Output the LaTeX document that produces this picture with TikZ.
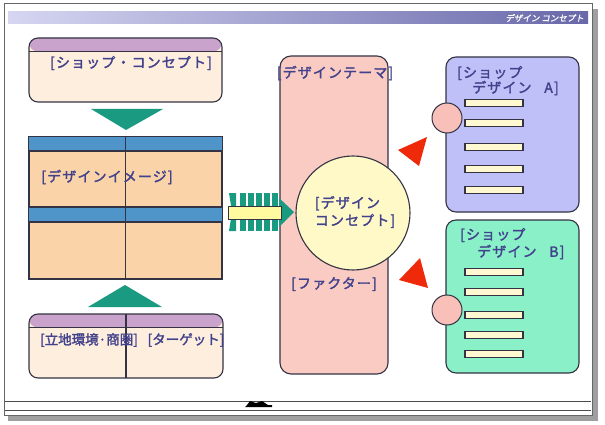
\documentclass[tikz,border=0pt]{standalone}
\usepackage{fontspec}
\newfontfamily\jp{Noto Sans CJK JP}[FakeBold=2,LetterSpace=8]
\newfontfamily\jpn{Noto Sans CJK JP}[FakeBold=2]
\newfontfamily\jpsl{Noto Sans CJK JP}[FakeBold=1.5,FakeSlant=0.2]
\definecolor{purp}{HTML}{C9A3CB}
\definecolor{cream}{HTML}{FDEEDD}
\definecolor{peach}{HTML}{FAD4A8}
\definecolor{bandblue}{HTML}{4F95C9}
\definecolor{teal}{HTML}{1A9A80}
\definecolor{pinkrect}{HTML}{F9CBC2}
\definecolor{circ}{HTML}{FFF9C8}
\definecolor{redt}{HTML}{EE2A0A}
\definecolor{lav}{HTML}{C0C0F8}
\definecolor{mint}{HTML}{8AF0C8}
\definecolor{barc}{HTML}{FFF8D0}
\definecolor{linec}{HTML}{333344}
\definecolor{txtc}{HTML}{42428C}
\definecolor{pinkc}{HTML}{F8C0B8}
\begin{document}
\begin{tikzpicture}[x=1pt,y=-1pt,
  outl/.style={draw=linec, line width=1.1pt},
  txt/.style={text=txtc, font=\jp\fontsize{14}{17.5}\selectfont, inner sep=0pt},
  smalltxt/.style={text=txtc, font=\jpn\fontsize{13.5}{16}\selectfont, inner sep=0pt},
  panel/.style={outl, rectangle, rounded corners=9pt, inner sep=0pt},
  barbox/.style={outl, line width=1.2pt, fill=barc, minimum width=58pt, minimum height=7pt, inner sep=0pt},
  knob/.style={outl, line width=1pt, circle, fill=pinkc, minimum size=30pt, inner sep=0pt},
  band/.style={path picture={\fill[#1] (path picture bounding box.north west) rectangle ([yshift=-13.5pt]path picture bounding box.north east);
     \draw[linec, line width=1.1pt] ([yshift=-13.5pt]path picture bounding box.north west) -- ([yshift=-13.5pt]path picture bounding box.north east);}}
]
\useasboundingbox (0,0) rectangle (605,425);
\fill[white] (0,0) rectangle (605,425);
% frame
\fill[gray!75] (8,9) rectangle (598,421);
\fill[white] (4,4) rectangle (592,415);
\draw[gray!80!black, line width=1pt] (4,4) rectangle (592,415);
\draw[gray!60!black, line width=1pt] (5,401) -- (591,401);
\draw[gray!60!black, line width=1pt] (5,410) -- (591,410);
\fill[black] (247,405) -- (250,401) -- (256,403) -- (262,401) -- (268,405) -- (272,405) -- (272,407) -- (245,407) -- cycle;
% title bar
\shade[left color={rgb,255:red,214;green,214;blue,242}, right color={rgb,255:red,104;green,104;blue,170}] (8,12) rectangle (588,24);
\node[anchor=east, text=white, font=\jpsl\fontsize{8.5}{10}\selectfont, inner sep=0pt] (title) at (584,18) {デザイン コンセプト};

% left column
\node[panel, fill=cream, band=purp, minimum width=193pt, minimum height=64pt] (shop) at (125.5,70) {};
\node[txt] (shopt) at (131,63) {[ショップ・コンセプト]};
\fill[teal] (91,109) -- (163,109) -- (126,130) -- cycle;

\node[outl, rectangle, fill=peach, minimum width=193pt, minimum height=142pt, inner sep=0pt] (grid) at (125.5,208) {};
\fill[bandblue] (29,137) rectangle (222,151);
\fill[bandblue] (29,207) rectangle (222,222);
\draw[outl] (29,151) -- (222,151);
\draw[outl] (29,207) -- (222,207);
\draw[outl] (29,222) -- (222,222);
\draw[outl] (grid.north west) rectangle (grid.south east);
\draw[outl] (grid.north) -- (grid.south);
\node[txt] (imgt) at (107,177) {[デザインイメージ]};

\fill[teal] (88,307) -- (162,307) -- (125,285) -- cycle;
\node[panel, fill=cream, band=purp, minimum width=194pt, minimum height=64pt] (site) at (126,346) {};
\draw[outl] (126,314) -- (126,378);
\node[smalltxt] (sitet) at (89,340) {[立地環境·商圏]};
\node[smalltxt] (tgt) at (186,340) {[ターゲット]};

% center
\node[panel, fill=pinkrect, rounded corners=11pt, minimum width=108pt, minimum height=318pt] (theme) at (334,215) {};
\node[txt] (themet) at (335,73) {[デザインテーマ]};
\node[txt] (fact) at (334,284) {[ファクター]};
\node[outl, circle, fill=circ, minimum size=114pt, inner sep=0pt] (concept) at (353,213) {};
\node[txt, align=left] (conceptt) at (355,212) {[デザイン\\コンセプト]};

% striped arrow
\fill[teal] (229,193) -- (236,193) -- (236,231) -- (229,231) -- (232,212) -- cycle;
\foreach \xx in {240,248,256,264,272} {\fill[teal] (\xx,193) rectangle (\xx+5.5,231);}
\fill[teal] (279,198) -- (294,212) -- (279,227) -- cycle;
\node[draw=linec, line width=0.6pt, fill={rgb,255:red,255;green,250;blue,160}, minimum width=53pt, minimum height=13pt, inner sep=0pt] (arrbody) at (254.5,212.5) {};

% red triangles
\fill[redt] (398,150) -- (427,137) -- (419,166) -- cycle;
\fill[redt] (399,280) -- (420,258) -- (428,288) -- cycle;

% shop design A
\node[panel, fill=lav, rounded corners=10pt, minimum width=133pt, minimum height=155pt] (boxa) at (512.5,134.5) {};
\node[txt, anchor=west] (at1) at (457,73) {[ショップ};
\node[txt, anchor=west] (at2) at (472,88) {デザイン\ \ \ A]};
\node[knob] (knoba) at (447,118) {};
\foreach \yy/\nm in {103/a1,123/a2,147/a3,169/a4,190/a5} {\node[barbox] (\nm) at (494,\yy) {};}

% shop design B
\node[panel, fill=mint, rounded corners=10pt, minimum width=133pt, minimum height=153pt] (boxb) at (512.5,296.5) {};
\node[txt, anchor=west] (bt1) at (460,235) {[ショップ};
\node[txt, anchor=west] (bt2) at (477,252) {デザイン\ \ \ B]};
\node[knob] (knobb) at (447,310) {};
\foreach \yy/\nm in {272/b1,292/b2,315/b3,335/b4,354/b5} {\node[barbox] (\nm) at (494,\yy) {};}
\end{tikzpicture}
\end{document}
